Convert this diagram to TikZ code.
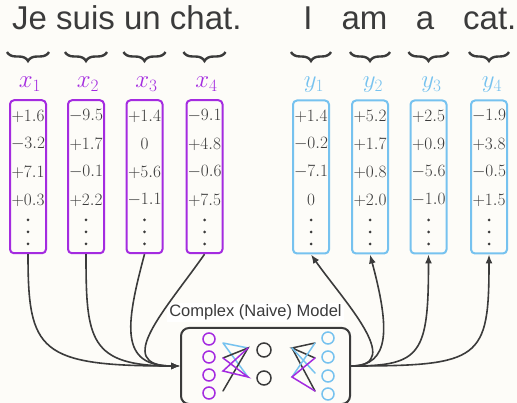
\documentclass[tikz,border=0pt]{standalone}
\usepackage{fontspec}
\setsansfont{Liberation Sans}
\usetikzlibrary{arrows.meta,decorations.pathreplacing}
\definecolor{bgcream}{HTML}{FDFCF8}
\definecolor{ink}{HTML}{3B3B3B}
\definecolor{srcpurple}{HTML}{A42BE0}
\definecolor{tgtblue}{HTML}{76C2EF}
\tikzset{
  vecbox/.style={draw=#1, line width=2pt, rounded corners=4pt,
    minimum width=36pt, minimum height=153pt, inner sep=0pt},
  entry/.style={inner sep=0pt, text=ink, font=\fontsize{16.5}{20}\selectfont},
  veclabel/.style={text=#1, inner sep=0pt, anchor=base, font=\fontsize{26}{30}\selectfont},
  word/.style={text=ink, inner sep=0pt, anchor=base, font=\sffamily\fontsize{33}{40}\selectfont},
  wordbrace/.style={draw=ink, line width=2.4pt, decorate,
    decoration={brace, mirror, amplitude=9pt}},
  conn/.style={draw=ink, line width=1.6pt, -{Latex[length=9pt,width=7pt]}},
  modelbox/.style={draw=ink, line width=2pt, rounded corners=8pt,
    minimum width=169pt, minimum height=76pt, inner sep=0pt},
  unit/.style={line width=1.5pt},
  wire/.style={line width=1.5pt, line cap=round}
}
\begin{document}
\begin{tikzpicture}[x=1pt,y=1pt]
\useasboundingbox (0,0) rectangle (517,-403);
\fill[bgcream] (0,0) rectangle (517,-403);
\clip (0,0) rectangle (517,-403);

% sentences
\node[word, anchor=base west] (src) at (12,-30) {Je suis un chat.};
\node[word] (tw1) at (308,-30) {I};
\node[word] (tw2) at (364.5,-30) {am};
\node[word] (tw3) at (425,-30) {a};
\node[word, anchor=base west] (tw4) at (463,-30) {cat.};

% source vectors
\foreach \i/\cx/\a/\b/\c/\d in {1/28/+1.6/-3.2/+7.1/+0.3, 2/86/-9.5/+1.7/-0.1/+2.2,
    3/144.5/+1.4/0/+5.6/-1.1, 4/204.5/-9.1/+4.8/-0.6/+7.5} {
  \draw[wordbrace] (\cx-21,-52) -- (\cx+21,-52);
  \node[veclabel=srcpurple] (xl\i) at (\cx+2,-88) {$x_{\i}$};
  \node[vecbox=srcpurple] (x\i) at (\cx,-176.75) {};
  \node[entry] (x\i a) at (\cx,-116) {$\a$};
  \node[entry] (x\i b) at (\cx,-144) {$\b$};
  \node[entry] (x\i c) at (\cx,-172) {$\c$};
  \node[entry] (x\i d) at (\cx,-200) {$\d$};
  \foreach \dy in {220,232,244} \fill[ink] (\cx,-\dy) circle (1.5);
}

% target vectors
\foreach \i/\cx/\a/\b/\c/\d in {1/311/+1.4/-0.2/-7.1/0, 2/370/+5.2/+1.7/+0.8/+2.0,
    3/428.5/+2.5/+0.9/-5.6/-1.0, 4/489/-1.9/+3.8/-0.5/+1.5} {
  \draw[wordbrace] (\cx-20,-52) -- (\cx+20,-52);
  \node[veclabel=tgtblue] (yl\i) at (\cx+3,-88) {$y_{\i}$};
  \node[vecbox=tgtblue] (y\i) at (\cx,-177) {};
  \node[entry] (y\i a) at (\cx,-116) {$\a$};
  \node[entry] (y\i b) at (\cx,-144) {$\b$};
  \node[entry] (y\i c) at (\cx,-172) {$\c$};
  \node[entry] (y\i d) at (\cx,-200) {$\d$};
  \foreach \dy in {220,232,244} \fill[ink] (\cx,-\dy) circle (1.5);
}

% model
\node[modelbox] (model) at (265.5,-366) {};
\node[text=ink, fill=white, inner sep=2pt, anchor=base,
  font=\sffamily\fontsize{16.5}{20}\selectfont] (modellabel) at (255.5,-317)
  {Complex (Naive) Model};

% encoder-side wiring
\draw[wire, tgtblue] (223,-343) -- (248,-348) (223,-343) -- (248,-377);
\draw[wire, ink] (223,-358) -- (248,-348) -- (223,-391);
\draw[wire, srcpurple] (223,-358) -- (248,-377) -- (223,-371) -- (248,-348);
% decoder-side wiring
\draw[wire, ink] (315,-343) -- (292,-348) -- (315,-358) (292,-348) -- (315,-391);
\draw[wire, tgtblue] (292,-348) -- (315,-373) (292,-377) -- (315,-343);
\draw[wire, srcpurple] (315,-358) -- (292,-377) -- (315,-391);

% units
\foreach \uy in {339,357,375,393} \draw[unit, srcpurple] (209,-\uy) circle (6);
\foreach \uy in {350,378} \draw[unit, ink] (264,-\uy) circle (7);
\foreach \uy in {338,357,376,394} \draw[unit, tgtblue] (328,-\uy) circle (6);

% inputs into the model
\draw[conn] (x1.south) to[out=-90, in=180, out distance=97pt, in distance=141pt] (model.west);
\draw[conn] (x2.south) to[out=-90, in=180, out distance=85pt, in distance=91pt] (model.west);
\draw[conn] (x3.south) to[out=-105, in=180, out distance=75pt, in distance=60pt] (model.west);
\draw[conn] (x4.south) to[out=-125, in=180, out distance=68pt, in distance=68pt] (model.west);

% outputs from the model
\draw[conn] (model.east) to[out=0, in=-55, out distance=55pt, in distance=55pt] (y1.south);
\draw[conn] (model.east) to[out=0, in=-75, out distance=40pt, in distance=75pt] (y2.south);
\draw[conn] (model.east) to[out=0, in=-90, out distance=70pt, in distance=100pt] (y3.south);
\draw[conn] (model.east) to[out=0, in=-90, out distance=130pt, in distance=105pt] (y4.south);
\end{tikzpicture}
\end{document}
